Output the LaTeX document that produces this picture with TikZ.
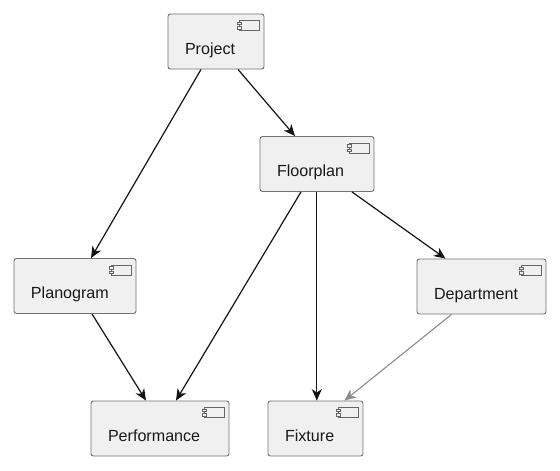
\documentclass[tikz,border=0pt]{standalone}
\usepackage{fontspec}
\setmainfont{Liberation Sans}
\usetikzlibrary{arrows.meta}
\tikzset{
  box/.style={draw=black!55,line width=0.9pt,fill=black!6,rounded corners=2.5pt,inner sep=0pt,
    text width=#1,align=left,text height=40pt,text depth=15pt,font=\fontsize{16.1}{19}\selectfont,text=black!90},
  icon/.style={draw=black!60,line width=0.7pt,fill=black!6},
  edge/.style={draw=black!92,line width=1.2pt,-{Stealth[length=11.5pt,width=10pt,inset=3.5pt]}},
  faint/.style={draw=black!45,line width=1.1pt,-{Stealth[length=11.5pt,width=10pt,inset=3.5pt]}}
}
\newcommand{\compicon}[1]{%
  \draw[icon] ([shift={(-25,7)}]#1.north east) rectangle ([shift={(-5.5,17)}]#1.north east);
  \draw[icon] ([shift={(-27,8.5)}]#1.north east) rectangle ([shift={(-23,11)}]#1.north east);
  \draw[icon] ([shift={(-27,13)}]#1.north east) rectangle ([shift={(-23,15.5)}]#1.north east);
}
\begin{document}
\begin{tikzpicture}[x=1pt,y=-1pt]
\useasboundingbox[fill=white] (0,0) rectangle (560,471);
\node[box=96pt] (project) at (216,41.5) {\hspace*{17pt}Project};
\node[box=114pt] (floorplan) at (317,164) {\hspace*{17pt}Floorplan};
\node[box=122pt] (planogram) at (75,286) {\hspace*{17pt}Planogram};
\node[box=129pt] (department) at (481.5,286.5) {\hspace*{17pt}Department};
\node[box=138pt] (performance) at (160,428.5) {\hspace*{17pt}Performance};
\node[box=95pt] (fixture) at (315.5,428.5) {\hspace*{17pt}Fixture};
\compicon{project}\compicon{floorplan}\compicon{planogram}
\compicon{department}\compicon{performance}\compicon{fixture}
\draw[edge] ([xshift=-15pt]project.south) -- ([xshift=16pt]planogram.north);
\draw[edge] ([xshift=22pt]project.south) -- ([xshift=-22pt]floorplan.north);
\draw[edge] ([xshift=-16pt]floorplan.south) -- ([xshift=16pt]performance.north);
\draw[edge] ([xshift=-0.2pt]floorplan.south) -- ([xshift=1.3pt]fixture.north);
\draw[edge] ([xshift=35pt]floorplan.south) -- ([xshift=-36pt]department.north);
\draw[edge] ([xshift=17pt]planogram.south) -- ([xshift=-14pt]performance.north);
\draw[faint] ([xshift=-30pt]department.south) -- ([xshift=29pt]fixture.north);
\end{tikzpicture}
\end{document}
